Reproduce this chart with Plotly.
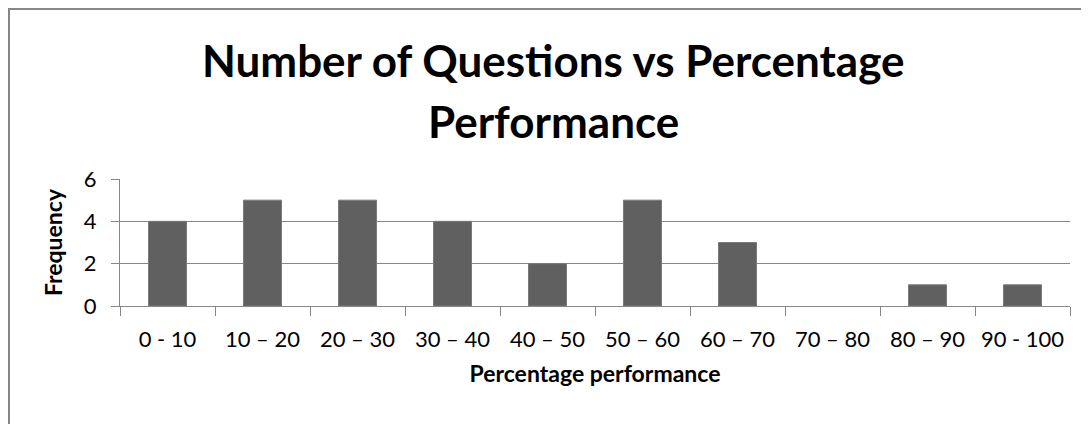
import plotly.graph_objects as go

categories = ["0 - 10", "10 – 20", "20 – 30", "30 – 40", "40 – 50",
              "50 – 60", "60 – 70", "70 – 80", "80 – 90", "90 - 100"]
frequency = [4, 5, 5, 4, 2, 5, 3, 0, 1, 1]
y_ticks = [0, 2, 4, 6]

# the page body has an 8px margin, so the figure is drawn at (8, 8)
W, H = 1081, 416
ML, MR, MT, MB = 112, 19, 171, 118
PW, PH = W - ML - MR, H - MT - MB

def px_x(p):
    return (p - ML) / PW

def px_y(p):
    return (H - MB - p) / PH

FONT = "Lato"
GRAY = "#878787"

fig = go.Figure()
fig.add_trace(go.Bar(
    x=categories, y=frequency,
    marker=dict(color="#606060",
                line=dict(color="#7a7a7a", width=[1 if v > 0 else 0 for v in frequency])),
    hoverinfo="skip",
))

fig.update_layout(
    width=W, height=H,
    margin=dict(l=ML, r=MR, t=MT, b=MB, autoexpand=False),
    paper_bgcolor="white", plot_bgcolor="white",
    bargap=0.6, showlegend=False,
    font=dict(family=FONT, color="black"),
)

fig.update_xaxes(
    type="category",
    showline=True, linecolor=GRAY, linewidth=1,
    ticks="outside", tickson="boundaries", ticklen=9, tickcolor=GRAY,
    tickfont=dict(size=22, family=FONT),
    ticklabelstandoff=14,
    showgrid=False,
    title=dict(text="<b>Percentage performance</b>", font=dict(size=23, family=FONT), standoff=14),
)
fig.update_yaxes(
    range=[0, 6], tickvals=y_ticks,
    showline=True, linecolor=GRAY, linewidth=1,
    showgrid=True, gridcolor=GRAY, gridwidth=1,
    zeroline=False,
    ticks="outside", ticklen=8, tickcolor=GRAY,
    tickfont=dict(size=22, family=FONT),
    ticklabelstandoff=10,
    title=dict(text="<b>Frequency</b>", font=dict(size=23, family=FONT), standoff=14),
)

# outer chart-area border (left and top edges visible)
fig.add_shape(type="rect", xref="paper", yref="paper",
              x0=px_x(1), x1=px_x(1200), y0=px_y(600), y1=px_y(1),
              line=dict(color="#868686", width=2), fillcolor="rgba(0,0,0,0)",
              layer="below")

fig.add_annotation(text="<b>Number of Questions vs Percentage</b>",
                   xref="paper", yref="paper", x=px_x(545), y=px_y(52),
                   xanchor="center", yanchor="middle", showarrow=False,
                   font=dict(size=44, family=FONT, color="black"))
fig.add_annotation(text="<b>Performance</b>",
                   xref="paper", yref="paper", x=px_x(545), y=px_y(113),
                   xanchor="center", yanchor="middle", showarrow=False,
                   font=dict(size=44, family=FONT, color="black"))

fig.write_html("out.html")
